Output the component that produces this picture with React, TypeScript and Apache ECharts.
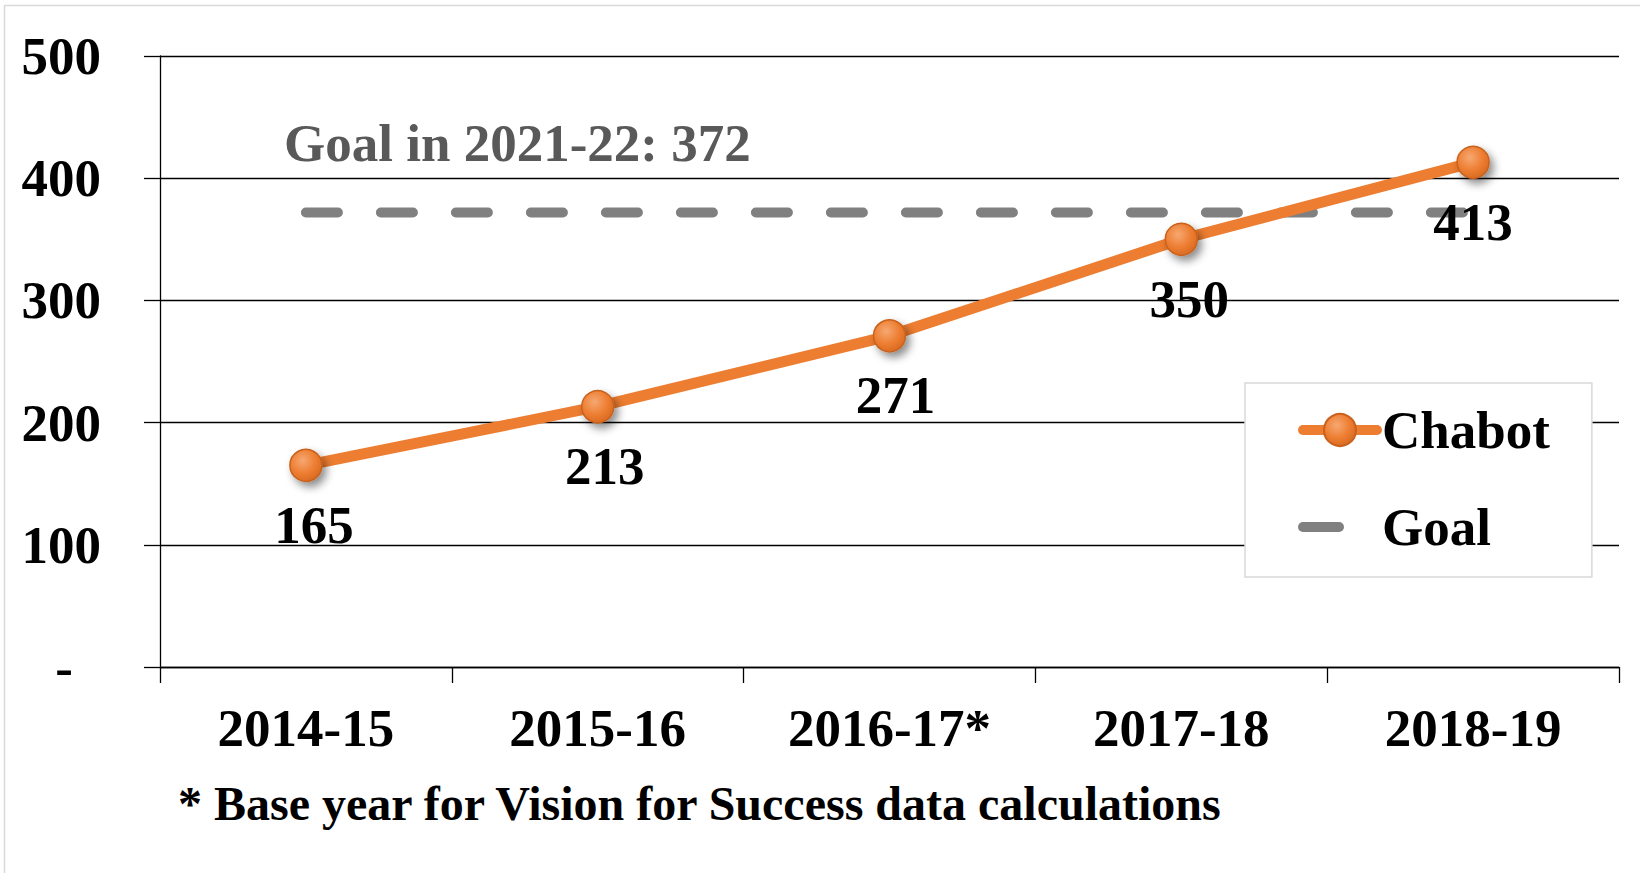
import React, { useEffect, useRef } from 'react';
import * as echarts from 'echarts';

const categories = ['2014-15', '2015-16', '2016-17*', '2017-18', '2018-19'];
const chabotValues = [165, 213, 271, 350, 413];
const goalValues = [372, 372, 372, 372, 372];
const goalLabel = 'Goal in 2021-22: 372';
const footnote = '* Base year for Vision for Success data calculations';
const yMin = 0;
const yMax = 500;
const yStep = 100;
const labelShiftX = [8, 7, 6, 8, 0];

const FONT = '"Liberation Serif", "Times New Roman", serif';
const ORANGE = '#ED7D31';
const GRAY = '#808080';

export default function App() {
  const ref = useRef<HTMLDivElement>(null);

  useEffect(() => {
    document.body.style.margin = '0';
    if (!ref.current) return;
    const chart = echarts.init(ref.current, null, { renderer: 'svg' });

    const markerFill = new echarts.graphic.RadialGradient(0.4, 0.35, 0.75, [
      { offset: 0, color: '#F6A872' },
      { offset: 0.55, color: '#ED7D31' },
      { offset: 1, color: '#D2661F' },
    ]);

    const textBase = {
      fontFamily: FONT,
      fontWeight: 'bold' as const,
      fontSize: 53,
      color: '#000',
    };

    chart.setOption({
      animation: false,
      backgroundColor: '#fff',
      grid: { left: 160, right: 21, top: 56, bottom: 206, containLabel: false },
      legend: {
        orient: 'vertical',
        left: 1245,
        top: 383,
        padding: [19, 42, 22, 53],
        backgroundColor: '#fff',
        borderColor: '#D9D9D9',
        borderWidth: 1.5,
        itemWidth: 74,
        itemHeight: 40,
        itemGap: 41,
        textStyle: { ...textBase, lineHeight: 56 },
        data: [
          { name: 'Chabot', lineStyle: { width: 10, color: ORANGE, cap: 'round' } },
          {
            name: 'Goal',
            lineStyle: { width: 10, color: GRAY, type: [36, 200], cap: 'round' },
            itemStyle: { color: 'rgba(0,0,0,0)', borderWidth: 0, opacity: 0 },
          },
        ],
      },
      xAxis: {
        type: 'category',
        data: categories,
        boundaryGap: true,
        axisLine: { show: true, lineStyle: { color: '#000', width: 1.3 } },
        axisTick: { show: true, length: 16, lineStyle: { color: '#000', width: 1.3 } },
        axisLabel: { ...textBase, margin: 34 },
      },
      yAxis: {
        type: 'value',
        min: yMin,
        max: yMax,
        interval: yStep,
        axisLine: { show: true, lineStyle: { color: '#000', width: 1.3 } },
        axisTick: { show: true, length: 16, lineStyle: { color: '#000', width: 1.3 } },
        splitLine: { show: true, lineStyle: { color: '#000', width: 1.3 } },
        axisLabel: {
          ...textBase,
          margin: 59,
          formatter: (v: number) => (v === 0 ? '{d|-}' : String(v)),
          rich: { d: { ...textBase, padding: [0, 28, 0, 0] } },
        },
      },
      series: [
        {
          name: 'Goal',
          type: 'line',
          data: goalValues,
          symbol: 'none',
          z: 2,
          lineStyle: { color: GRAY, width: 10, type: [32, 43], cap: 'round' },
          itemStyle: { color: GRAY },
        },
        {
          name: 'Chabot',
          type: 'line',
          z: 3,
          data: chabotValues.map((v, i) => ({
            value: v,
            label: { offset: [labelShiftX[i], 0] },
          })),
          symbol: 'circle',
          symbolSize: 32,
          lineStyle: { color: ORANGE, width: 11, cap: 'round', join: 'round' },
          itemStyle: {
            color: markerFill,
            borderColor: '#C9611C',
            borderWidth: 1.5,
            shadowBlur: 8,
            shadowColor: 'rgba(0,0,0,0.45)',
            shadowOffsetX: 4,
            shadowOffsetY: 5,
          },
          label: {
            show: true,
            position: 'bottom',
            distance: 16,
            ...textBase,
          },
        },
      ],
      graphic: [
        {
          type: 'rect',
          shape: { x: 4.5, y: 5.5, width: 1800, height: 1000 },
          style: { fill: 'none', stroke: '#D9D9D9', lineWidth: 1.5 },
          silent: true,
          z: -10,
        },
        {
          type: 'text',
          x: 284,
          y: 143,
          style: {
            text: goalLabel,
            font: `bold 53px ${FONT}`,
            fill: '#595959',
            align: 'left',
            verticalAlign: 'middle',
          },
          z: 5,
        },
        {
          type: 'text',
          x: 178,
          y: 803,
          style: {
            text: footnote,
            font: `bold 48px ${FONT}`,
            fill: '#000',
            align: 'left',
            verticalAlign: 'middle',
          },
          z: 5,
        },
      ],
    });

    return () => chart.dispose();
  }, []);

  return <div ref={ref} style={{ width: 1640, height: 873 }} />;
}
